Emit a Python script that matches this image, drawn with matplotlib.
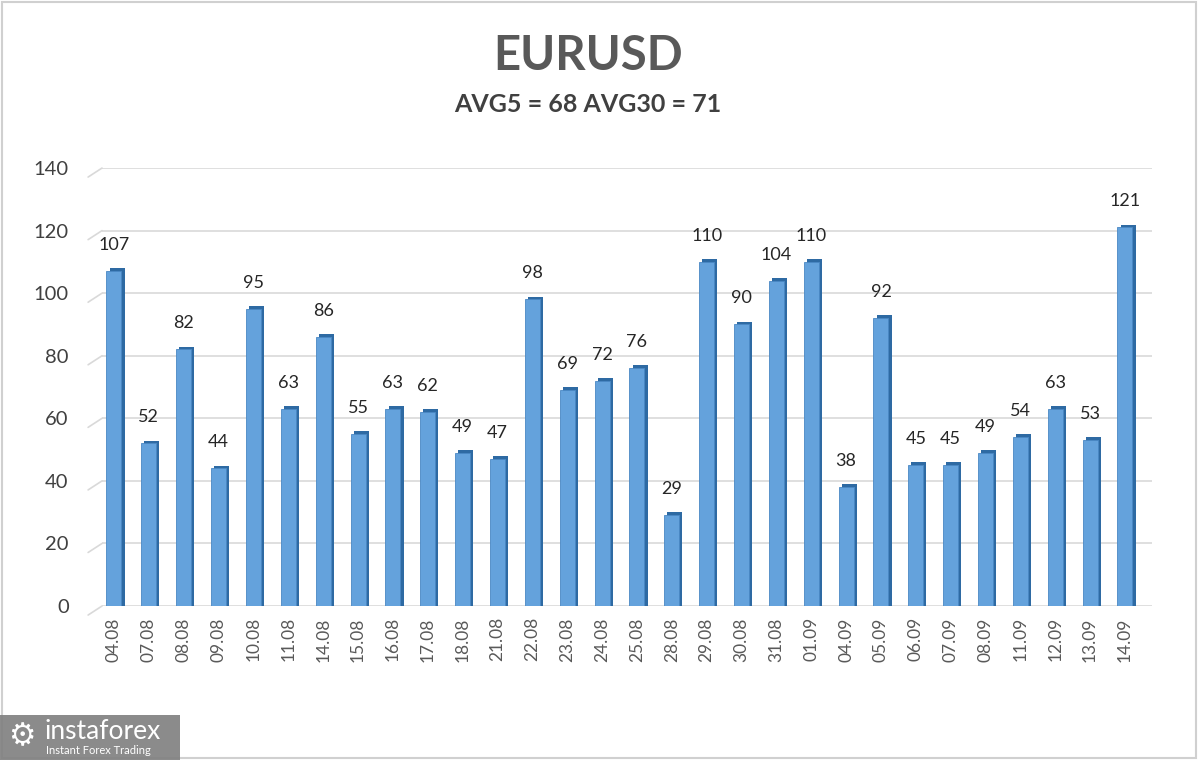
import matplotlib
matplotlib.use("Agg")
import matplotlib.pyplot as plt
import matplotlib.transforms as mtransforms
from matplotlib.patches import Rectangle
import numpy as np

plt.rcParams['font.family'] = ['Lato', 'DejaVu Sans']

title = "EURUSD"
subtitle = "AVG5 = 68 AVG30 = 71"
dates = ["04.08", "07.08", "08.08", "09.08", "10.08", "11.08", "14.08", "15.08",
         "16.08", "17.08", "18.08", "21.08", "22.08", "23.08", "24.08", "25.08",
         "28.08", "29.08", "30.08", "31.08", "01.09", "04.09", "05.09", "06.09",
         "07.09", "08.09", "11.09", "12.09", "13.09", "14.09"]
values = [107, 52, 82, 44, 95, 63, 86, 55, 63, 62, 49, 47, 98, 69, 72, 76,
          29, 110, 90, 104, 110, 38, 92, 45, 45, 49, 54, 63, 53, 121]
yticks = [0, 20, 40, 60, 80, 100, 120, 140]

fig = plt.figure(figsize=(12, 7.6), dpi=100)
fig.patch.set_facecolor("white")
ax = fig.add_axes([0.085, 0.2026, 0.875, 0.5763])

x = np.arange(len(values))
w = 0.43
# depth (side face) bars
ax.bar(x + 0.09, np.array(values) + 0.9, width=w, color="#2e6aa3",
       zorder=2, linewidth=0)
# front face
ax.bar(x, values, width=w, color="#64a2dc", edgecolor="#4a88c4",
       linewidth=0.6, zorder=3)

for xi, v in zip(x, values):
    ax.annotate(str(v), (xi, v), xytext=(0, 13), textcoords="offset points",
                ha="center", va="bottom", fontsize=13, color="#262626", zorder=4)

ax.set_ylim(0, 140)
ax.set_xlim(-0.344, len(values) - 1 + 0.775)
ax.set_yticks(yticks)
ax.set_yticklabels([str(t) for t in yticks], fontsize=14.5, color="#404040")
ax.set_xticks(x)
ax.set_xticklabels(dates, rotation=90, fontsize=12.5, color="#595959")
ax.tick_params(axis="both", length=0)
ax.tick_params(axis="y", pad=24)
ax.tick_params(axis="x", pad=8)
ax.grid(axis="y", color="#d9d9d9", linewidth=1.2, zorder=0)
ax.set_axisbelow(True)
for s in ax.spines.values():
    s.set_visible(False)

# perspective stubs on the left of each gridline
trans = mtransforms.blended_transform_factory(ax.transAxes, ax.transData)
for t in yticks:
    ax.annotate("", xy=(0.0, t), xycoords=trans,
                xytext=(-10, -6.5), textcoords="offset points",
                arrowprops=dict(arrowstyle="-", color="#d9d9d9", lw=1.2,
                                shrinkA=0, shrinkB=0))

fig.text(0.49, 0.908, title, ha="center", va="baseline", fontsize=34,
         fontweight="bold", color="#595959")
fig.text(0.49, 0.853, subtitle, ha="center", va="baseline", fontsize=18,
         fontweight="bold", color="#404040")

# frame
fig.patches.append(Rectangle((0.002, 0.003), 0.995, 0.994, transform=fig.transFigure,
                             fill=False, edgecolor="#d0d0d0", linewidth=1.5))

# watermark
fig.patches.append(Rectangle((0.0, 0.0), 0.15, 0.059, transform=fig.transFigure,
                             facecolor="#7f7f7f", edgecolor="none", alpha=0.9))
fig.text(0.018, 0.031, "\u2699", ha="center", va="center", fontsize=22,
         color="white", family="DejaVu Sans")
fig.text(0.037, 0.037, "instaforex", ha="left", va="center", fontsize=19,
         color="white")
fig.text(0.038, 0.012, "Instant Forex Trading", ha="left", va="center",
         fontsize=8, color="white")

fig.savefig("out.png", dpi=100, facecolor="white")
